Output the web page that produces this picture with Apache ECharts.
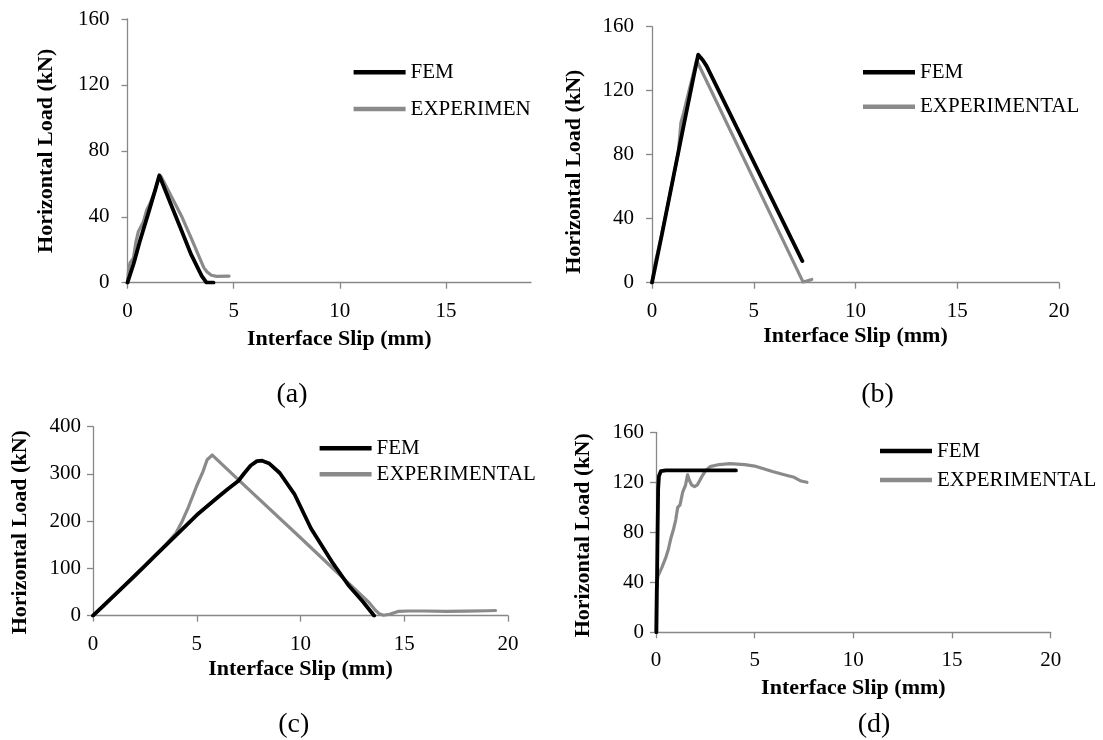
<!DOCTYPE html>
<html><head><meta charset="utf-8">
<script src="https://cdn.jsdelivr.net/npm/echarts@6/dist/echarts.min.js"></script>
<style>html,body{margin:0;padding:0;background:#fff}#c{width:1103px;height:740px}</style>
</head><body><div id="c"></div>
<script>
// ---- data (Interface Slip mm, Horizontal Load kN) ----
const panelLabels = ['(a)', '(b)', '(c)', '(d)'];
const seriesNames = ['FEM', 'EXPERIMENTAL'];
const xTicks = [0, 5, 10, 15, 20];
const xTicksA = [0, 5, 10, 15];
const yTicks160 = [0, 40, 80, 120, 160];
const yTicks400 = [0, 100, 200, 300, 400];

const aFEM = [[0,0],[0.3,12],[0.6,26],[1.0,43],[1.3,56],[1.5,65],[2.0,49],[2.5,33],[3.0,17],[3.5,4],[3.72,0],[4.05,0]];
const aEXP = [[0,0],[0.05,8],[0.12,12],[0.28,15],[0.4,25],[0.51,31],[0.75,37],[0.9,44],[1.06,48],[1.3,56],[1.5,65.5],[1.6,64],[2.0,54],[2.56,40],[3.0,27],[3.43,14],[3.6,9],[3.75,6.5],[3.95,4.5],[4.2,3.8],[4.78,4]];

const bFEM = [[0,0],[0.5,31],[1.05,66],[1.6,101],[2.0,126],[2.27,142.5],[2.5,139],[2.68,135.5],[7.39,13.5]];
const bEXP = [[0,0],[0.15,12],[0.39,25],[0.7,44],[1.05,66],[1.3,82],[1.42,100],[1.55,106],[1.86,122],[2.19,139],[2.25,140],[7.42,0.5],[7.6,1],[7.85,2]];

const cFEM = [[0,0],[1,42],[2,84],[3,127],[4,170],[5,213],[6,250],[6.5,268],[7,285],[7.3,302],[7.6,318],[7.9,327],[8.15,328],[8.5,322],[9,302],[9.7,258],[10.5,185],[11.5,115],[12.3,65],[13,30],[13.55,0]];
const cEXP = [[0,0],[0.5,20],[1,42],[1.5,63],[2,86],[2.5,106],[3,128],[3.5,150],[4,175],[4.3,200],[4.6,230],[5.0,275],[5.3,305],[5.5,330],[5.75,340],[7.0,288],[10,165],[13.3,28],[13.6,12],[13.8,4],[14.0,1],[14.3,3],[14.7,9],[15.2,10],[16,10],[17,9],[18,9.5],[19,10.5],[19.4,11]];

const dFEM = [[0.02,0],[0.05,40],[0.08,80],[0.11,115],[0.15,125],[0.25,129],[0.5,129.5],[4.05,129.5]];
const dEXP = [[0,0],[0.02,35],[0.1,45],[0.3,52],[0.5,60],[0.62,66],[0.75,75],[0.88,82],[1.0,90],[1.1,100],[1.22,102],[1.35,112],[1.5,118],[1.6,126],[1.68,122],[1.8,118],[1.95,116.5],[2.1,118],[2.32,124.5],[2.5,129],[2.74,132.5],[3.2,134.2],[3.75,135],[4.5,134.2],[5.0,133],[5.9,128.6],[6.5,126],[7.0,124],[7.35,121],[7.65,120]];

// ---- chart ----
const FF = "'Liberation Serif','Times New Roman',serif";
const AXC = '#888888';
const BLACK = '#000000', GREY = '#8a8a8a';
const chart = echarts.init(document.getElementById('c'), null, {renderer: 'canvas'});

const grids = [
  {left: 127.5, top: 19, width: 403.5, height: 263.7},
  {left: 652, top: 26.7, width: 407, height: 256},
  {left: 93, top: 426.7, width: 415, height: 189},
  {left: 656, top: 432.3, width: 394.7, height: 200}
].map(g => Object.assign({containLabel: false, outerBoundsMode: 'none'}, g));

const xMax = [19, 20, 20, 20];
const xTickSets = [xTicksA, xTicks, xTicks, xTicks];
const yTickSets = [yTicks160, yTicks160, yTicks400, yTicks160];
const yLabelMargin = [18, 18, 12, 12];
const xNameGap = [46, 43, 43, 45];
const xNamePad = [[0,0,0,20],[0,0,0,0],[0,0,0,0],[0,0,0,0]];
const yNameGap = [70, 67, 62, 62];
const yNamePad = [[0,0,0,0],[0,34,0,0],[0,22,0,0],[0,6,0,0]];

const xAxes = grids.map((g, i) => ({
  type: 'value', gridIndex: i, min: 0, max: xMax[i], interval: 5,
  name: 'Interface Slip (mm)', nameLocation: 'middle', nameGap: xNameGap[i],
  nameTextStyle: {fontFamily: FF, fontSize: 22, fontWeight: 'bold', color: '#000', padding: xNamePad[i]},
  axisLine: {show: true, onZero: false, lineStyle: {color: AXC, width: 1.3}},
  axisTick: {show: true, inside: false, length: 6, lineStyle: {color: AXC, width: 1.3}, customValues: xTickSets[i]},
  axisLabel: {fontFamily: FF, fontSize: 21, color: '#000', margin: 18, customValues: xTickSets[i]},
  splitLine: {show: false}
}));

const yAxes = grids.map((g, i) => {
  const t = yTickSets[i];
  return {
    type: 'value', gridIndex: i, min: 0, max: t[t.length - 1], interval: t[1] - t[0],
    name: 'Horizontal Load (kN)', nameLocation: 'middle', nameGap: yNameGap[i],
    nameTextStyle: {fontFamily: FF, fontSize: 22, fontWeight: 'bold', color: '#000', padding: yNamePad[i]},
    axisLine: {show: true, onZero: false, lineStyle: {color: AXC, width: 1.3}},
    axisTick: {show: true, inside: false, length: 6, lineStyle: {color: AXC, width: 1.3}},
    axisLabel: {fontFamily: FF, fontSize: 21, color: '#000', margin: yLabelMargin[i]},
    splitLine: {show: false}
  };
});

const data = [[aFEM, aEXP], [bFEM, bEXP], [cFEM, cEXP], [dFEM, dEXP]];
const series = [];
data.forEach((pair, i) => {
  pair.forEach((d, k) => {
    const col = k === 0 ? BLACK : GREY;
    series.push({
      type: 'line', name: seriesNames[k], xAxisIndex: i, yAxisIndex: i,
      data: d, symbol: 'none', showSymbol: false, smooth: false,
      lineStyle: {color: col, width: k === 0 ? 3.8 : 3.2, cap: 'round', join: 'round'},
      itemStyle: {color: col}, z: k === 0 ? 3 : 2, animation: false
    });
  });
});

const legendPos = [
  {left: 353.6, top: 61.8, itemGap: 15.7},
  {left: 863, top: 61.8, itemGap: 13.4},
  {left: 319.6, top: 437.8, itemGap: 5},
  {left: 880, top: 440.5, itemGap: 8}
];
const legends = legendPos.map((p, i) => ({
  orient: 'vertical', left: p.left, top: p.top, itemGap: p.itemGap,
  itemWidth: 52, itemHeight: 4.5, icon: 'rect', selectedMode: false, padding: 0,
  textStyle: {fontFamily: FF, fontSize: 21, color: '#000'},
  data: i === 0
    ? ['FEM', {name: 'EXPERIMENTAL', textStyle: {width: 122, overflow: 'truncate', ellipsis: ''}}]
    : seriesNames.slice()
}));

const labelPos = [[292, 395], [877.5, 395], [293.8, 725], [874, 725]];
const graphics = panelLabels.map((t, i) => ({
  type: 'text', x: labelPos[i][0], y: labelPos[i][1], silent: true,
  style: {text: t, font: "28px " + FF, fill: '#000', textAlign: 'center', textVerticalAlign: 'middle'}
}));

chart.setOption({
  animation: false,
  backgroundColor: '#ffffff',
  grid: grids,
  xAxis: xAxes,
  yAxis: yAxes,
  legend: legends,
  series: series,
  graphic: graphics
});
</script></body></html>
